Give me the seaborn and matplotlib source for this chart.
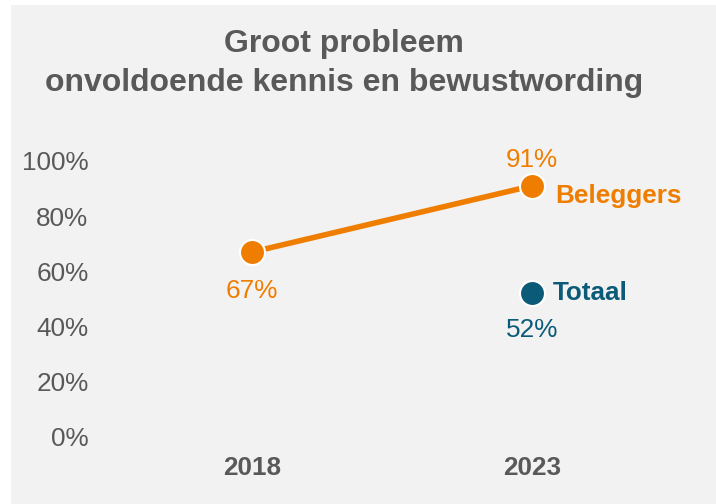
import matplotlib
matplotlib.use("Agg")
import matplotlib.pyplot as plt
import seaborn as sns
import pandas as pd
from matplotlib.patches import Rectangle

years = ["2018", "2023"]
beleggers = [67, 91]
totaal_year = ["2023"]
totaal = [52]
yticks = [0, 20, 40, 60, 80, 100]
title = "Groot probleem\nonvoldoende kennis en bewustwording"

ORANGE = "#EF7D00"
TEAL = "#0B5B78"
GRAY = "#595959"
BG = "#F2F2F2"
FS = 18.8

sns.set_theme(style="white")
plt.rcParams['font.family'] = ['Liberation Sans', 'DejaVu Sans']

fig = plt.figure(figsize=(7.16, 5.04), dpi=100, facecolor="white")
fig.patches.append(Rectangle((11/716, 0), 1 - 11/716, 1 - 5/504,
                             transform=fig.transFigure, facecolor=BG,
                             edgecolor="none", zorder=-10))
ax = fig.add_axes([112/716, 67/504, 560/716, 276/504])
ax.set_facecolor("none")

df_b = pd.DataFrame({"year": years, "value": beleggers})
df_t = pd.DataFrame({"year": totaal_year, "value": totaal})

ax.set_xlim(-0.5, 1.5)
sns.lineplot(data=df_b, x="year", y="value", ax=ax, color=ORANGE, lw=4.0,
             marker="o", markersize=18, markeredgecolor="white",
             markeredgewidth=1.5, sort=False)
sns.scatterplot(data=df_t, x="year", y="value", ax=ax, color=TEAL, s=18**2,
                edgecolor="white", linewidth=1.5, zorder=5)
ax.set_xlim(-0.5, 1.5)
ax.set_ylim(0, 100)
ax.set_yticks(yticks)
ax.set_yticklabels([f"{v}%" for v in yticks], color=GRAY, fontsize=FS)
ax.set_xticks([0, 1])
ax.set_xticklabels(years, color=GRAY, fontsize=FS, fontweight="bold")
ax.tick_params(axis="y", length=0, pad=17)
ax.tick_params(axis="x", length=0, pad=14)
ax.set_xlabel("")
ax.set_ylabel("")
for s in ax.spines.values():
    s.set_visible(False)

# data labels
ax.annotate(f"{beleggers[0]}%", (0, beleggers[0]), xytext=(0, -28),
            textcoords="offset points", ha="center", va="center",
            color=ORANGE, fontsize=FS)
ax.annotate(f"{beleggers[1]}%", (1, beleggers[1]), xytext=(0, 18.5),
            textcoords="offset points", ha="center", va="center",
            color=ORANGE, fontsize=FS)
ax.annotate(f"{totaal[0]}%", (1, totaal[0]), xytext=(0, -26.5),
            textcoords="offset points", ha="center", va="center",
            color=TEAL, fontsize=FS)
ax.annotate("Beleggers", (1, beleggers[1]), xytext=(17, -7),
            textcoords="offset points", ha="left", va="center",
            color=ORANGE, fontsize=FS, fontweight="bold")
ax.annotate("Totaal", (1, totaal[0]), xytext=(15, 0),
            textcoords="offset points", ha="left", va="center",
            color=TEAL, fontsize=FS, fontweight="bold")

fig.text(344/716, 1 - 63.5/504, title, ha="center", va="center",
         fontsize=23, fontweight="bold", color=GRAY, linespacing=1.36)

fig.savefig("out.png", dpi=100, facecolor=fig.get_facecolor())
